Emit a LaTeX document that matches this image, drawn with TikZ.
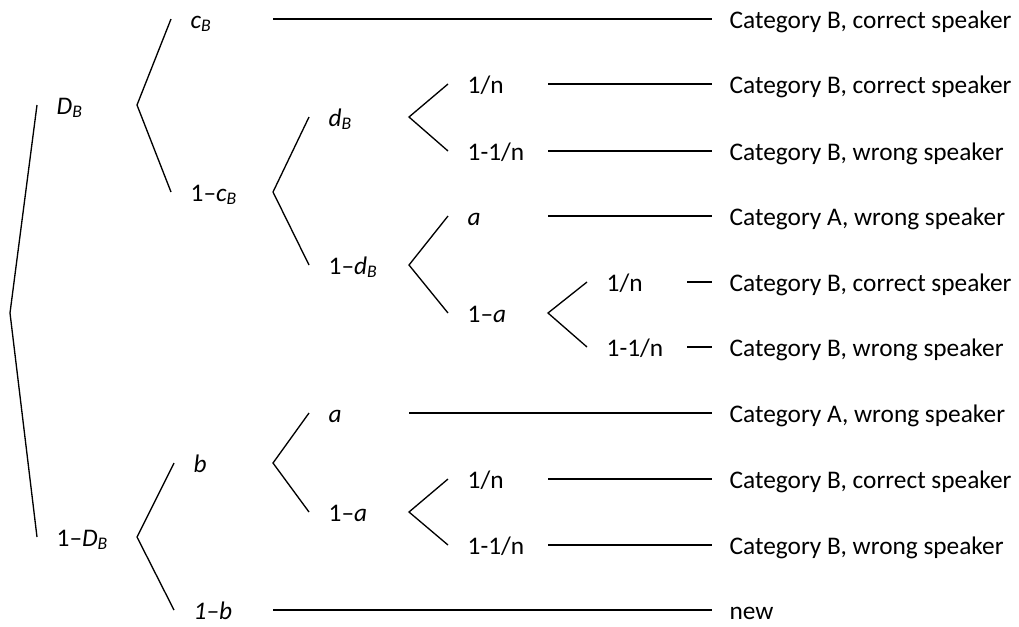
\documentclass[tikz,border=0pt]{standalone}
\usepackage{fontspec}
\setmainfont{Carlito}

\begin{document}
\begin{tikzpicture}
    [
    x=0.75pt, y=-0.75pt,
    line width=1pt,
    every node/.style={font=\fontsize{19}{23}\selectfont},
    basic/.style={anchor=west, inner ysep=0pt, text height=17pt, text depth=3pt},
    lbl/.style={basic, inner xsep=14.25pt},
    res/.style={basic, inner xsep=12.75pt}
    ]
    \useasboundingbox (0,0) rectangle (1019,626);

    % Columnas de los nodos de bifurcacion
    \coordinate (k1) at (137,0);
    \coordinate (k2) at (273,0);
    \coordinate (k3) at (409,0);
    \coordinate (k4) at (548,0);
    \coordinate (k5) at (687,0);

    % Primer nivel
    \coordinate (root) at (10,313);
    \node [lbl] (DB) at (37,105) {\textit{D\textsubscript{B}}};
    \node [lbl] (nDB) at (37,537) {1\textendash\textit{D\textsubscript{B}}};
    \draw (DB.west) -- (root) -- (nDB.west);
    % Rama D_B
    \node [lbl] (cB) at (171,19) {\textit{c\textsubscript{B}}};
    \node [lbl] (ncB) at (171,192) {1\textendash\textit{c\textsubscript{B}}};
    \draw (cB.west) -- (k1 |- DB) -- (ncB.west);
    % Rama 1-c_B
    \node [lbl] (dB) at (309,117) {\textit{d\textsubscript{B}}};
    \node [lbl] (ndB) at (309,265) {1\textendash\textit{d\textsubscript{B}}};
    \draw (dB.west) -- (k2 |- ncB) -- (ndB.west);
    % Rama d_B
    \node [lbl] (n1) at (448,84) {1/n};
    \node [lbl] (nn1) at (448,151) {1-1/n};
    \draw (n1.west) -- (k3 |- dB) -- (nn1.west);
    % Rama 1-d_B
    \node [lbl] (a1) at (448,216) {\textit{a}};
    \node [lbl] (na1) at (448,313) {1\textendash\textit{a}};
    \draw (a1.west) -- (k3 |- ndB) -- (na1.west);
    % Rama 1-a (arriba)
    \node [lbl] (n2) at (587,282) {1/n};
    \node [lbl] (nn2) at (587,347) {1-1/n};
    \draw (n2.west) -- (k4 |- na1) -- (nn2.west);
    % Rama 1-D_B
    \node [lbl] (bb) at (174,463) {\textit{b}};
    \node [lbl] (nb) at (174,610) {\textit{1\textendash b}};
    \draw (bb.west) -- (k1 |- nDB) -- (nb.west);
    % Rama b
    \node [lbl] (a2) at (309,413) {\textit{a}};
    \node [lbl] (na2) at (309,512) {1\textendash\textit{a}};
    \draw (a2.west) -- (k2 |- bb) -- (na2.west);
    % Rama 1-a (abajo)
    \node [lbl] (n3) at (448,479) {1/n};
    \node [lbl] (nn3) at (448,545) {1-1/n};
    \draw (n3.west) -- (k3 |- na2) -- (nn3.west);

    % Resultados
    \node [res] (o1) at (712,19) {Category B, correct speaker};
    \node [res] (o2) at (712,84) {Category B, correct speaker};
    \node [res] (o3) at (712,151) {Category B, wrong speaker};
    \node [res] (o4) at (712,216) {Category A, wrong speaker};
    \node [res] (o5) at (712,282) {Category B, correct speaker};
    \node [res] (o6) at (712,347) {Category B, wrong speaker};
    \node [res] (o7) at (712,413) {Category A, wrong speaker};
    \node [res] (o8) at (712,479) {Category B, correct speaker};
    \node [res] (o9) at (712,545) {Category B, wrong speaker};
    \node [res] (o10) at (712,610) {new};
    \draw (k2 |- cB) -- (o1.west);
    \draw (k4 |- n1) -- (o2.west);
    \draw (k4 |- nn1) -- (o3.west);
    \draw (k4 |- a1) -- (o4.west);
    \draw (k5 |- n2) -- (o5.west);
    \draw (k5 |- nn2) -- (o6.west);
    \draw (k3 |- a2) -- (o7.west);
    \draw (k4 |- n3) -- (o8.west);
    \draw (k4 |- nn3) -- (o9.west);
    \draw (k2 |- nb) -- (o10.west);
\end{tikzpicture}
\end{document}
